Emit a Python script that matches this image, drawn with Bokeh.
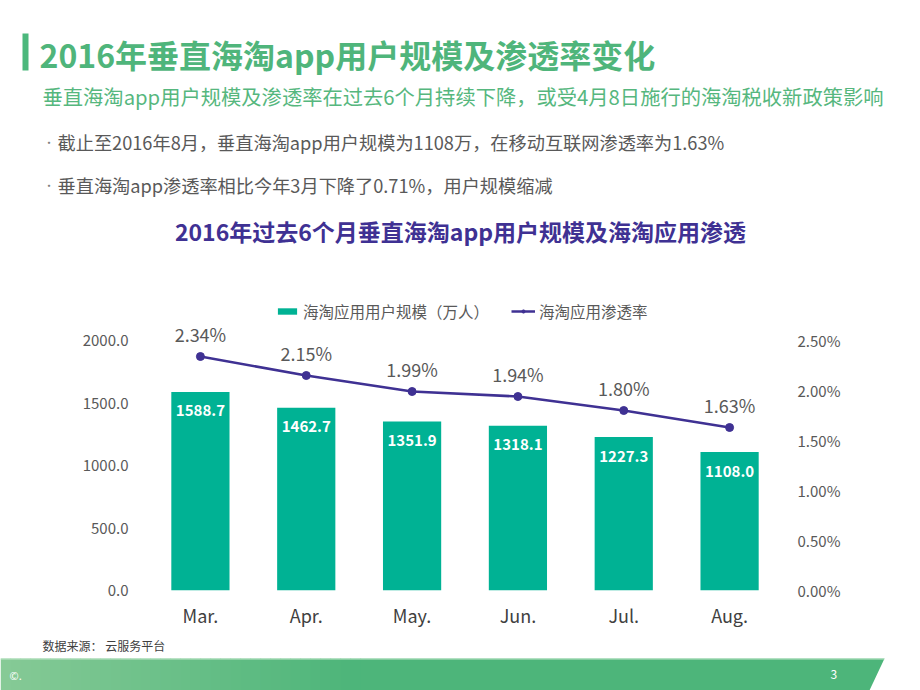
from bokeh.plotting import figure
from bokeh.models import (FactorRange, Range1d, LinearAxis, FixedTicker, Legend,
                          LegendItem, ColumnDataSource)
from bokeh.layouts import column
from bokeh.embed import file_html
from bokeh.resources import INLINE
from bokeh.core.properties import value

# ---------------- data ----------------
months = ["Mar.", "Apr.", "May.", "Jun.", "Jul.", "Aug."]
users = [1588.7, 1462.7, 1351.9, 1318.1, 1227.3, 1108.0]   # 万人
rates = [2.34, 2.15, 1.99, 1.94, 1.80, 1.63]               # %
left_ticks = [0, 500, 1000, 1500, 2000]
left_tick_labels = ["0.0", "500.0", "1000.0", "1500.0", "2000.0"]
right_ticks = [0, 0.5, 1.0, 1.5, 2.0, 2.5]
right_tick_labels = ["0.00%", "0.50%", "1.00%", "1.50%", "2.00%", "2.50%"]
series_names = ["海淘应用用户规模（万人）", "海淘应用渗透率"]

title_text = "2016年垂直海淘app用户规模及渗透率变化"
subtitle_text = "垂直海淘app用户规模及渗透率在过去6个月持续下降，或受4月8日施行的海淘税收新政策影响"
bullets = ["截止至2016年8月，垂直海淘app用户规模为1108万，在移动互联网渗透率为1.63%",
           "垂直海淘app渗透率相比今年3月下降了0.71%，用户规模缩减"]
chart_title = "2016年过去6个月垂直海淘app用户规模及海淘应用渗透"
source_text = "数据来源： 云服务平台"

FONT = "Noto Sans CJK SC"
W = 920
GREEN = "#4fb57b"
TEAL = "#00b294"
PURPLE = "#3f3193"
GRAY = "#595959"


def blank(height, y_top, y_bottom):
    f = figure(width=W, height=height, output_backend="svg", toolbar_location=None,
               x_range=Range1d(0, W), y_range=Range1d(y_bottom, y_top),
               x_axis_location=None, y_axis_location=None, min_border=0)
    f.frame_align = False
    f.outline_line_color = None
    f.grid.visible = False
    f.background_fill_color = "white"
    f.border_fill_color = "white"
    return f


# ---------------- header ----------------
H1 = 258
head = blank(H1, 0, H1)
head.quad(left=[22], right=[28], top=[33], bottom=[70], color="#4cb87c", line_color=None)
head.text(x=[39], y=[53], text=[title_text], text_font=value(FONT), text_font_size="32px",
          text_font_style="bold", text_color=GREEN, text_baseline="middle")
head.text(x=[42], y=[95], text=[subtitle_text], text_font=value(FONT), text_font_size="20.3px",
          text_color="#56b77e", text_baseline="middle")
head.text(x=[43, 43], y=[141, 184], text=["•", "•"], text_font=value(FONT),
          text_font_size="11px", text_color="#7f7f7f", text_baseline="middle")
head.text(x=[57, 57], y=[141, 184], text=bullets, text_font=value(FONT), text_font_size="18.2px",
          text_color=GRAY, text_baseline="middle")
head.text(x=[460], y=[230], text=[chart_title], text_font=value(FONT), text_font_size="23px",
          text_font_style="bold", text_color=PURPLE, text_baseline="middle", text_align="center")

# ---------------- chart ----------------
H2 = 374
src = ColumnDataSource(dict(
    month=months, users=users, rate=rates,
    ulabel=[f"{v:.1f}" for v in users],
    rlabel=[f"{r:.2f}%" for r in rates],
))

p = figure(width=W, height=H2, output_backend="svg", toolbar_location=None,
           x_range=FactorRange(factors=months, range_padding=0),
           y_range=Range1d(0, 2400), min_border_left=147, min_border_right=138,
           min_border_top=32, min_border_bottom=42, y_axis_location=None)
p.frame_align = False
p.outline_line_color = None
p.grid.visible = False
p.extra_y_ranges = {"rate": Range1d(0, 3.0)}

bars = p.vbar(x="month", top="users", width=0.55, source=src, color=TEAL, line_color=None)
line_r = p.line(x="month", y="rate", y_range_name="rate", source=src, line_color=PURPLE,
                line_width=2.5)
dots = p.scatter(x="month", y="rate", y_range_name="rate", source=src, size=8,
                 color=PURPLE, line_color=PURPLE)

p.text(x="month", y="users", text="ulabel", source=src, text_font=value(FONT),
       text_font_size="15px", text_font_style="bold", text_color="white",
       text_align="center", text_baseline="middle", y_offset=19)
p.text(x="month", y="rate", text="rlabel", source=src, y_range_name="rate",
       text_font=value(FONT), text_font_size="18px", text_color=GRAY,
       text_align="center", text_baseline="middle", y_offset=-23)

xa = p.xaxis[0]
xa.axis_line_color = None
xa.major_tick_line_color = None
xa.minor_tick_line_color = None
xa.major_label_standoff = 5
xa.major_label_text_font = FONT
xa.major_label_text_font_size = "18px"
xa.major_label_text_color = "#404040"

la = LinearAxis(ticker=FixedTicker(ticks=left_ticks),
                major_label_overrides=dict(zip(left_ticks, left_tick_labels)))
ra = LinearAxis(y_range_name="rate", ticker=FixedTicker(ticks=right_ticks),
                major_label_overrides=dict(zip(right_ticks, right_tick_labels)))
for ax, so in ((la, 13), (ra, 9)):
    ax.axis_line_color = None
    ax.major_tick_line_color = None
    ax.minor_tick_line_color = None
    ax.major_label_standoff = so
    ax.major_label_text_font = FONT
    ax.major_label_text_font_size = "15px"
    ax.major_label_text_color = GRAY
p.add_layout(la, "left")
p.add_layout(ra, "right")

legend = Legend(items=[LegendItem(label=series_names[0], renderers=[bars]),
                       LegendItem(label=series_names[1], renderers=[line_r, dots])],
                orientation="horizontal", location=(128, 268), glyph_width=24,
                glyph_height=8, label_text_font=FONT, label_text_font_size="15.5px",
                label_text_color=GRAY, border_line_color=None, background_fill_alpha=0,
                padding=0, margin=0, spacing=22, label_standoff=4)
p.add_layout(legend)

# ---------------- footer ----------------
H3 = 690 - H1 - H2
foot = blank(H3, H1 + H2, 690)
foot.text(x=[42], y=[645], text=[source_text], text_font=value(FONT), text_font_size="12px",
          text_color="#404040", text_baseline="middle")
c0 = (134, 202, 150)
c1 = (77, 181, 122)
n = 36
step = 360 / n
for i in range(n):
    t = i / (n - 1)
    col = "#%02x%02x%02x" % tuple(int(a + (b - a) * t) for a, b in zip(c0, c1))
    foot.quad(left=[i * step], right=[(i + 1) * step + 0.6], top=[658], bottom=[692],
              color=col, line_color=None)
foot.patch(x=[360, 884, 868, 360], y=[658, 658, 692, 692], color="#4db57a", line_color=None)
foot.line(x=[0, 884], y=[658.5, 658.5], line_color="#bfe5c8", line_width=1.2)
foot.text(x=[9], y=[674], text=["©."], text_font=value(FONT), text_font_size="11px",
          text_color="white", text_baseline="middle")
foot.text(x=[830], y=[674], text=["3"], text_font=value(FONT), text_font_size="12px",
          text_color="white", text_baseline="middle")

layout = column(head, p, foot, spacing=0)
with open("out.html", "w", encoding="utf-8") as fh:
    fh.write(file_html(layout, INLINE))
